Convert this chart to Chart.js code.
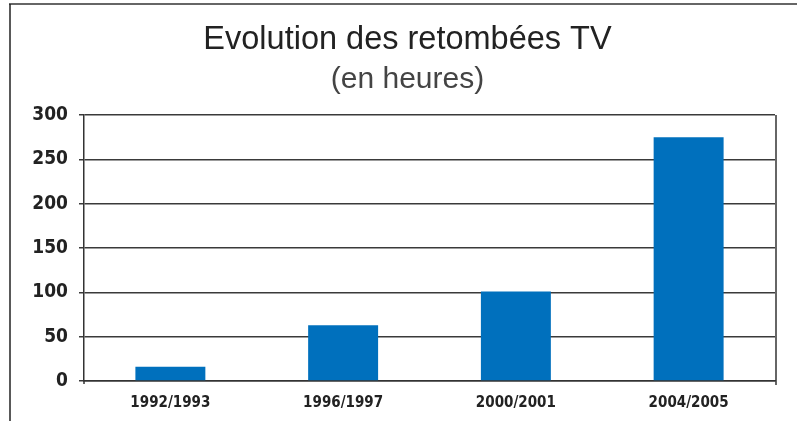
<!DOCTYPE html>
<html>
<head>
<meta charset="utf-8">
<script src="https://cdn.jsdelivr.net/npm/chart.js@4/dist/chart.umd.min.js"></script>
<style>
html,body{margin:0;padding:0;background:#fff;}
#wrap{position:relative;width:799px;height:421px;}
</style>
</head>
<body>
<div id="wrap"><canvas id="c" width="799" height="421"></canvas></div>
<script>
const titleText = 'Evolution des retombées TV';
const subtitleText = '(en heures)';
const categories = ['1992/1993', '1996/1997', '2000/2001', '2004/2005'];
const hours = [16, 63, 101, 275];
const yTicks = [0, 50, 100, 150, 200, 250, 300];

const narrow = "'Liberation Sans Narrow', 'DejaVu Sans Condensed', 'Liberation Sans', sans-serif";

const framePlugin = {
  id: 'frame',
  afterDraw(chart) {
    const ctx = chart.ctx;
    const a = chart.chartArea;
    ctx.save();
    ctx.strokeStyle = '#666';
    ctx.lineWidth = 2;
    ctx.beginPath();
    ctx.moveTo(9, 4); ctx.lineTo(797, 4);
    ctx.stroke();
    ctx.strokeStyle = '#222';
    ctx.lineWidth = 1.5;
    ctx.beginPath();
    ctx.moveTo(10, 4); ctx.lineTo(10, 421);
    ctx.stroke();
    ctx.strokeStyle = '#333';
    ctx.lineWidth = 1.5;
    ctx.beginPath();
    ctx.moveTo(a.right + 1, a.top); ctx.lineTo(a.right + 1, a.bottom + 4);
    ctx.stroke();
    ctx.beginPath();
    ctx.moveTo(a.left, a.bottom); ctx.lineTo(a.left, a.bottom + 3);
    ctx.stroke();
    ctx.restore();
  }
};

new Chart(document.getElementById('c'), {
  type: 'bar',
  data: {
    labels: categories,
    datasets: [{
      data: hours,
      backgroundColor: '#0070bd',
      borderWidth: 0,
      barPercentage: 0.405,
      categoryPercentage: 1.0
    }]
  },
  options: {
    responsive: false,
    animation: false,
    layout: { padding: { left: 16, right: 0, top: 0, bottom: 0 } },
    plugins: {
      legend: { display: false },
      tooltip: { enabled: false },
      title: {
        display: true,
        text: titleText,
        color: '#222',
        font: { family: "'Liberation Sans', Arial, sans-serif", size: 32.5, weight: 'normal' },
        padding: { top: 21, bottom: 2 }
      },
      subtitle: {
        display: true,
        text: subtitleText,
        color: '#444',
        font: { family: "'Liberation Sans', Arial, sans-serif", size: 30, weight: 'normal' },
        padding: { top: 0, bottom: 17 }
      }
    },
    scales: {
      x: {
        grid: { display: true, drawOnChartArea: false, drawTicks: false, color: 'rgba(0,0,0,0)' },
        border: { display: true, color: '#333', width: 1.5 },
        ticks: {
          color: '#222',
          padding: 13,
          font: { family: narrow, size: 15, weight: 'bold' }
        },
        afterFit(scale) { scale.height = 40; }
      },
      y: {
        min: 0,
        max: 300,
        afterBuildTicks(scale) { scale.ticks = yTicks.map(v => ({ value: v })); },
        grid: { color: '#3a3a3a', lineWidth: 1.5, tickLength: 5, drawTicks: true },
        border: { display: true, color: '#333', width: 1.5 },
        ticks: {
          color: '#222',
          padding: 11,
          font: { family: narrow, size: 19, weight: 'bold' }
        },
        afterFit(scale) { scale.width = 68; }
      },
      yRight: {
        position: 'right',
        min: 0,
        max: 300,
        grid: { display: false },
        border: { display: false },
        ticks: { display: false },
        afterFit(scale) { scale.width = 24; }
      }
    }
  },
  plugins: [framePlugin]
});
</script>
</body>
</html>
